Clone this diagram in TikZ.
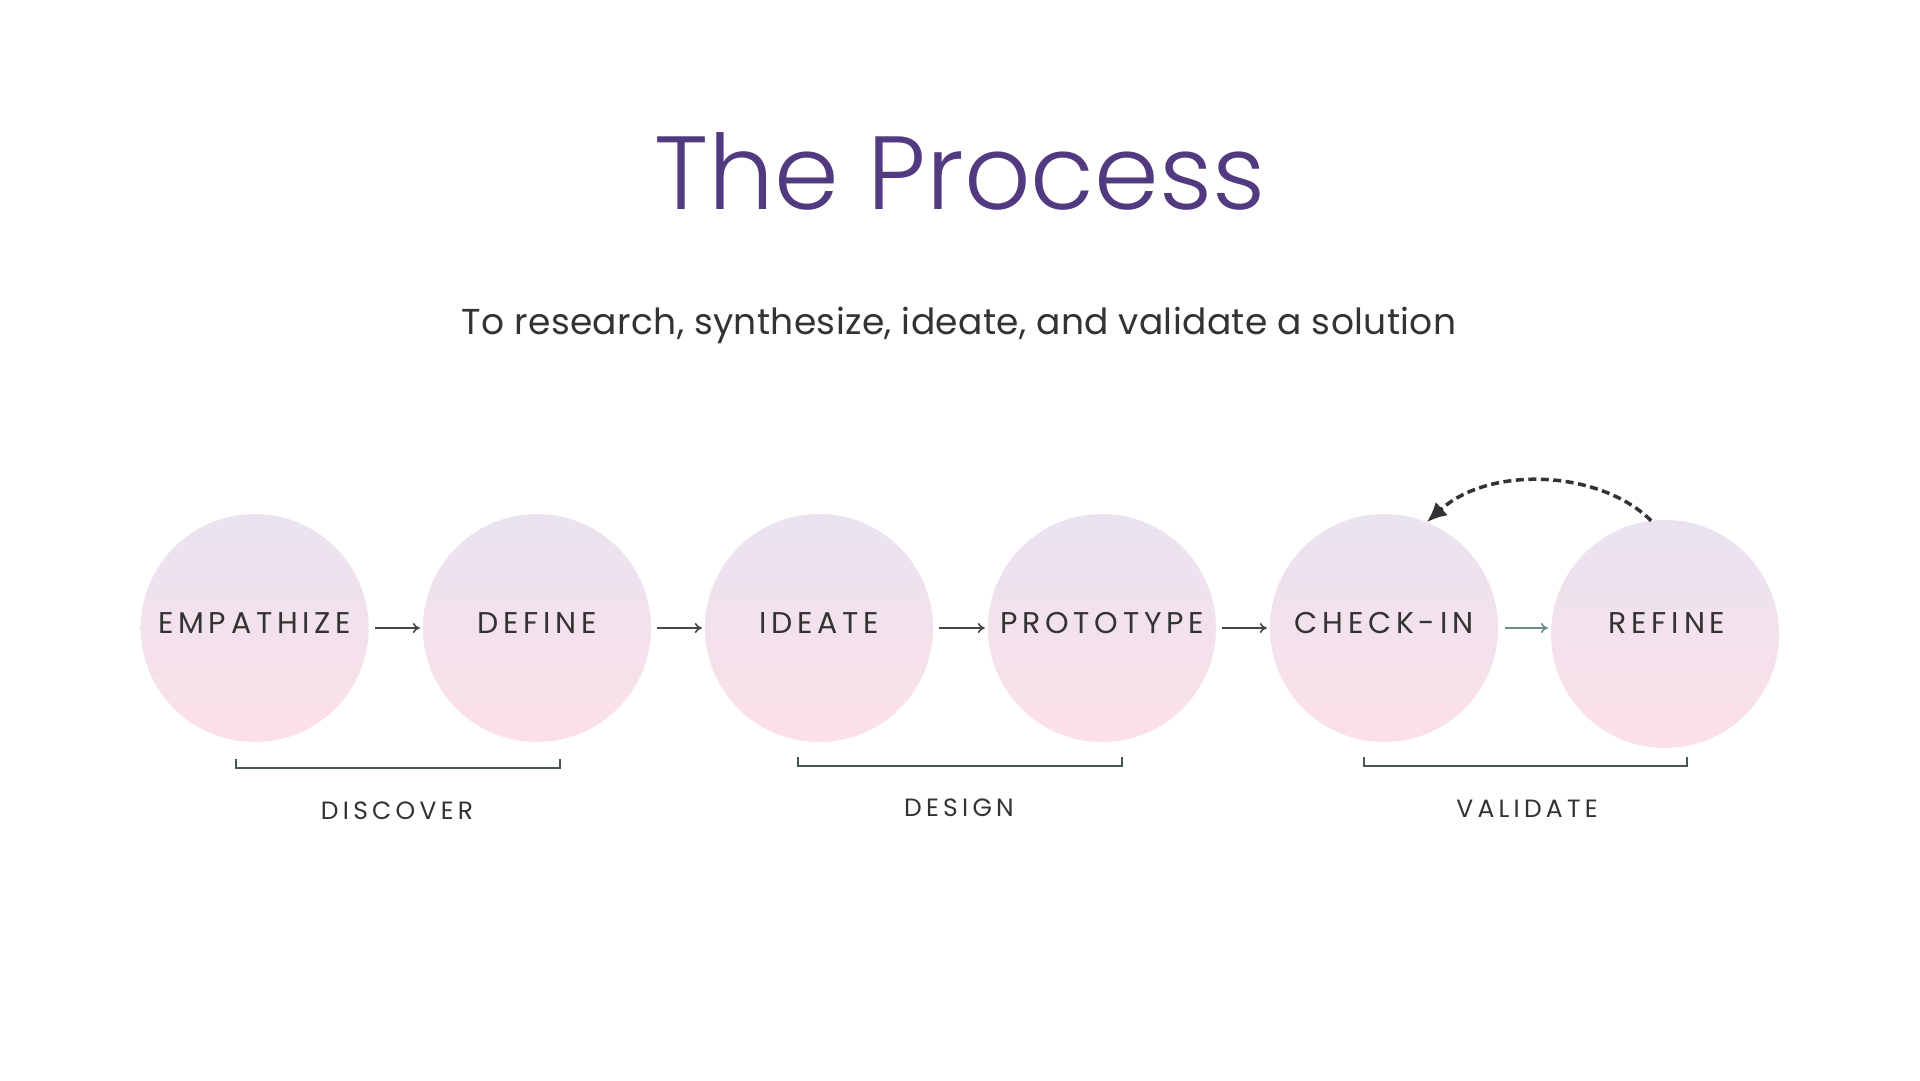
\documentclass[tikz,border=0pt]{standalone}
\usepackage{fontspec}
\setmainfont{Poppins}
\newfontfamily\poplight{Poppins Light}
\usetikzlibrary{arrows.meta}
\definecolor{titlec}{RGB}{82,58,128}
\definecolor{txt}{RGB}{51,51,51}
\definecolor{arrc}{RGB}{70,70,70}
\definecolor{arrg}{RGB}{110,140,135}
\definecolor{brc}{RGB}{70,85,85}
\definecolor{ctop}{RGB}{233,227,240}
\definecolor{cbot}{RGB}{252,224,232}
\begin{document}
\begin{tikzpicture}[x=1pt,y=-1pt,
  stage/.style={circle, minimum size=228pt, inner sep=0pt, top color=ctop, bottom color=cbot, draw=none},
  lab/.style={font=\fontsize{30}{30}\selectfont\addfontfeature{LetterSpace=16}, text=txt, inner sep=0pt},
  grp/.style={font=\fontsize{25}{25}\selectfont\addfontfeature{LetterSpace=17}, text=txt, inner sep=0pt},
  flow/.style={draw=arrc, line width=1.6pt, -{To[length=7pt,width=10pt]}},
  flowg/.style={draw=arrg, line width=1.6pt, -{To[length=7pt,width=10pt]}},
  brk/.style={draw=brc, line width=1.5pt},
  loopb/.style={draw=txt, line width=3.5pt, dash pattern=on 8pt off 4.5pt, -{Latex[length=20pt,width=18pt]}}
]
\useasboundingbox (0,0) rectangle (1920,1080);
\fill[white] (0,0) rectangle (1920,1080);

\node[font=\poplight\fontsize{104}{104}\selectfont, text=titlec] (title) at (960,171) {The Process};
\node[font=\fontsize{36}{36}\selectfont\addfontfeature{LetterSpace=1}, text=txt] (sub) at (959,325) {To research, synthesize, ideate, and validate a solution};

\node[stage] (c1) at (254.7,628) {};
\node[stage] (c2) at (537,628) {};
\node[stage] (c3) at (819,628) {};
\node[stage] (c4) at (1102,628) {};
\node[stage] (c5) at (1384,628) {};
\node[stage] (c6) at (1665,634) {};

\node[lab] (t1) at (254.7,623) {EMPATHIZE};
\node[lab] (t2) at (537,623) {DEFINE};
\node[lab] (t3) at (819,623) {IDEATE};
\node[lab] (t4) at (1102,623) {PROTOTYPE};
\node[lab] (t5) at (1384,623) {CHECK-IN};
\node[lab] (t6) at (1667,623) {REFINE};

\draw[flow] ([xshift=6pt]c1.east) -- ([xshift=-3pt]c1.east -| c2.west);
\draw[flow] ([xshift=6pt]c2.east) -- ([xshift=-3pt]c2.east -| c3.west);
\draw[flow] ([xshift=6pt]c3.east) -- ([xshift=-3pt]c3.east -| c4.west);
\draw[flow] ([xshift=6pt]c4.east) -- ([xshift=-3pt]c4.east -| c5.west);
\draw[flowg] ([xshift=7pt]c5.east) -- ([xshift=-3pt]c5.east -| c6.west);

\draw[loopb] (c6.97) .. controls (1600,470) and (1490,465) .. (c5.68);

\coordinate (b1a) at (236,759); \coordinate (b1b) at (560,759);
\coordinate (b2a) at (798,757); \coordinate (b2b) at (1122,757);
\coordinate (b3a) at (1364,757); \coordinate (b3b) at (1687,757);
\draw[brk] (b1a) -- ++(0,9) -| (b1b);
\draw[brk] (b2a) -- ++(0,9) -| (b2b);
\draw[brk] (b3a) -- ++(0,9) -| (b3b);

\node[grp] (g1) at (397,811) {DISCOVER};
\node[grp] (g2) at (959,808) {DESIGN};
\node[grp] (g3) at (1527,809) {VALIDATE};
\end{tikzpicture}
\end{document}
